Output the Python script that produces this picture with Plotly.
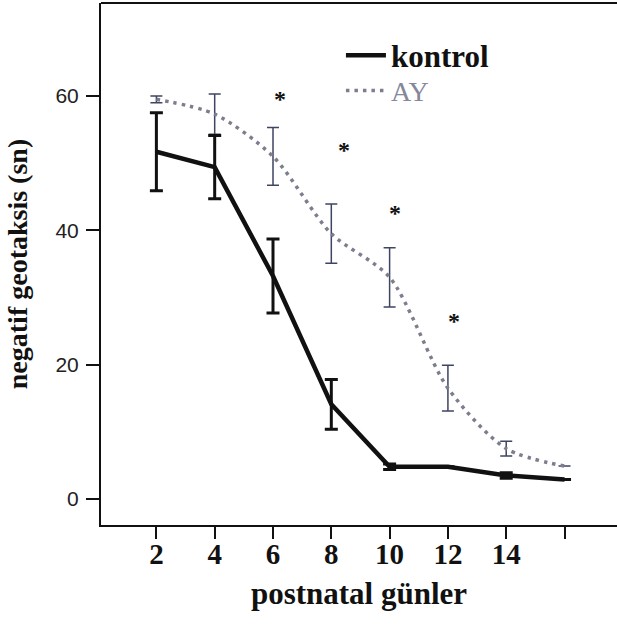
import plotly.graph_objects as go

days = [2, 4, 6, 8, 10, 12, 14, 16]
kontrol = [51.7, 49.4, 33.2, 14.1, 4.8, 4.8, 3.5, 2.9]
kontrol_err = [5.8, 4.7, 5.5, 3.7, 0.4, 0.0, 0.4, 0.0]
ay = [59.5, 57.3, 51.0, 39.5, 33.0, 16.5, 7.5, 4.9]
ay_err = [0.5, 3.0, 4.3, 4.4, 4.4, 3.4, 1.1, 0.0]
star_x = [6.25, 8.45, 10.2, 12.2]
star_y = [60.2, 52.5, 43.2, 27.1]
tick_vals = [2, 4, 6, 8, 10, 12, 14, 16]
tick_text = ["<b>2</b>", "<b>4</b>", "<b>6</b>", "<b>8</b>", "<b>10</b>", "<b>12</b>", "<b>14</b>", ""]
y_ticks = [0, 20, 40, 60]

serif = "Liberation Serif"

fig = go.Figure()
fig.add_trace(go.Scatter(
    x=days, y=ay, mode="lines", name="<span style='color:#85879a'>AY</span>",
    line=dict(color="#7c7e8e", width=3.5, dash="3.5px,5px", shape="spline", smoothing=0.8),
    error_y=dict(type="data", array=ay_err, visible=True, color="#3f4462", thickness=1.5, width=6),
    legend="legend2",
))
fig.add_trace(go.Scatter(
    x=days, y=kontrol, mode="lines", name="<b>kontrol</b>",
    line=dict(color="#111111", width=4.5),
    error_y=dict(type="data", array=kontrol_err, visible=True, color="#111111", thickness=3, width=6.5),
    legend="legend",
))

for sx, sy in zip(star_x, star_y):
    fig.add_annotation(x=sx, y=sy, text="<b>*</b>", showarrow=False,
                       font=dict(family=serif, size=24, color="#111"), yshift=-4)

# top frame line
fig.add_shape(type="line", xref="paper", yref="paper", x0=0, x1=1.1, y0=1, y1=1,
              line=dict(color="#111", width=2))

fig.update_layout(
    width=617, height=625,
    margin=dict(l=101, r=0, t=3, b=100),
    paper_bgcolor="white", plot_bgcolor="white",
    showlegend=True,
    legend=dict(x=0.465, y=0.899, xanchor="left", yanchor="middle",
                font=dict(family=serif, size=31, color="#111"),
                bgcolor="rgba(0,0,0,0)", itemwidth=40),
    legend2=dict(x=0.465, y=0.832, xanchor="left", yanchor="middle",
                 font=dict(family=serif, size=28, color="#85879a"),
                 bgcolor="rgba(0,0,0,0)", itemwidth=40),
    xaxis=dict(range=[0.1, 17.8], tickvals=tick_vals, ticktext=tick_text,
               showline=True, linecolor="#111", linewidth=2, mirror=False,
               ticks="outside", ticklen=12, tickwidth=2, tickcolor="#111",
               showgrid=False, zeroline=False, ticklabelstandoff=-10,
               tickfont=dict(family=serif, size=29, color="#111"),
               title=dict(text="<b>postnatal günler</b>", standoff=14,
                          font=dict(family=serif, size=31, color="#111"))),
    yaxis=dict(range=[-3.87, 73.84], tickvals=y_ticks,
               showline=True, linecolor="#111", linewidth=2, mirror=False,
               ticks="outside", ticklen=13, tickwidth=2, tickcolor="#111",
               showgrid=False, zeroline=False, ticklabelstandoff=3,
               tickfont=dict(family="Liberation Sans", size=21, color="#222"),
               title=dict(text="<b>negatif geotaksis (sn)</b>", standoff=20,
                          font=dict(family=serif, size=28, color="#111"))),
)

fig.write_html(
    "out.html", config={"displayModeBar": False},
    post_script=("document.documentElement.style.margin='0';"
                 "document.documentElement.style.overflow='hidden';"
                 "document.body.style.margin='0';document.body.style.padding='0';"
                 "document.body.style.overflow='hidden';"),
)
